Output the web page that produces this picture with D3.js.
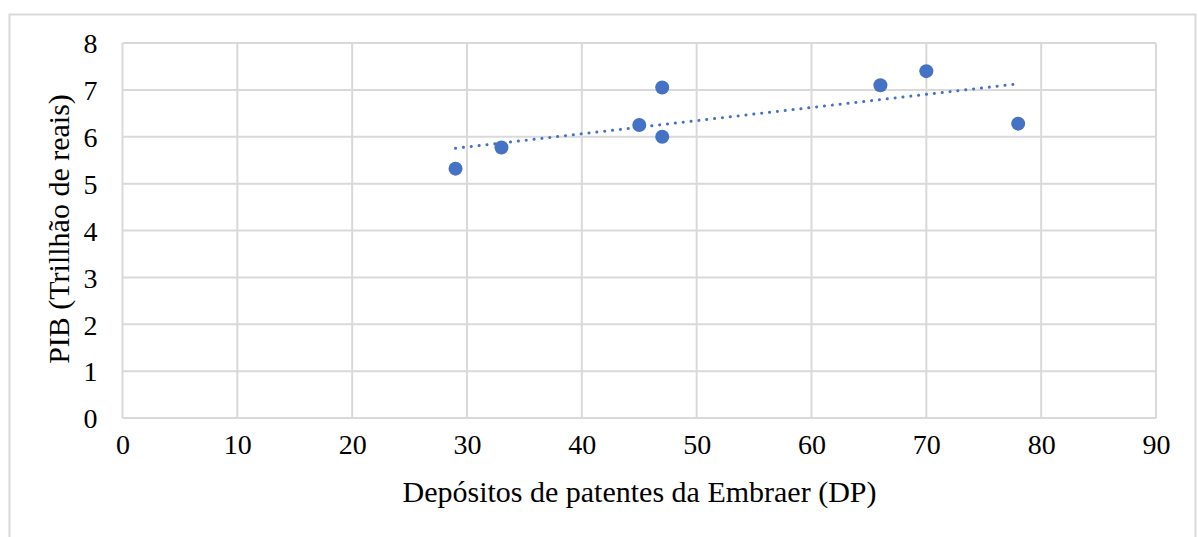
<!DOCTYPE html>
<html><head><meta charset="utf-8">
<script src="https://cdn.jsdelivr.net/npm/d3@7"></script>
<style>body{margin:0;background:#fff}svg{display:block}</style>
</head><body>
<script>
const xValues = [29, 33, 45, 47, 47, 66, 70, 78];
const yValues = [5.32, 5.77, 6.25, 7.05, 6.0, 7.1, 7.4, 6.28];
const xTicks = [0, 10, 20, 30, 40, 50, 60, 70, 80, 90];
const yTicks = [0, 1, 2, 3, 4, 5, 6, 7, 8];
const xTitle = "Depósitos de patentes da Embraer (DP)";
const yTitle = "PIB (Trillhão de reais)";

const W = 1199, H = 537;
const svg = d3.select("body").append("svg").attr("width", W).attr("height", H);
const font = "'Liberation Serif', 'Times New Roman', serif";

svg.append("rect").attr("x", 9.5).attr("y", 14.5).attr("width", 1186).attr("height", 540)
  .attr("fill", "none").attr("stroke", "#d9d9d9").attr("stroke-width", 2);

const x = d3.scaleLinear().domain([0, 90]).range([122.5, 1156]);
const y = d3.scaleLinear().domain([0, 8]).range([418, 43]);

const g = svg.append("g");
g.selectAll(".vg").data(xTicks).enter().append("line")
  .attr("x1", d => x(d)).attr("x2", d => x(d)).attr("y1", y(0)).attr("y2", y(8))
  .attr("stroke", "#d9d9d9").attr("stroke-width", 2);
g.selectAll(".hg").data(yTicks).enter().append("line")
  .attr("y1", d => y(d)).attr("y2", d => y(d)).attr("x1", x(0)).attr("x2", x(90))
  .attr("stroke", "#d9d9d9").attr("stroke-width", 2);

const xAxis = d3.axisBottom(x).tickValues(xTicks).tickSize(0).tickPadding(0);
const xa = svg.append("g").attr("transform", `translate(0,${y(0)+26})`).call(xAxis);
xa.select(".domain").remove();
xa.selectAll("text").attr("font-family", font).attr("font-size", 28).attr("fill", "#000").attr("dy", "0.35em");

const yAxis = d3.axisLeft(y).tickValues(yTicks).tickSize(0).tickPadding(0);
const ya = svg.append("g").attr("transform", `translate(${x(0)-25},0)`).call(yAxis);
ya.select(".domain").remove();
ya.selectAll("text").attr("font-family", font).attr("font-size", 28).attr("fill", "#000").attr("dy", "0.35em");

// trendline (least squares)
const n = xValues.length;
const mx = d3.mean(xValues), my = d3.mean(yValues);
let sxy = 0, sxx = 0;
for (let i = 0; i < n; i++) { sxy += (xValues[i]-mx)*(yValues[i]-my); sxx += (xValues[i]-mx)**2; }
const slope = sxy/sxx, icpt = my - slope*mx;
const x0 = d3.min(xValues), x1 = d3.max(xValues);
svg.append("line")
  .attr("x1", x(x0)).attr("y1", y(icpt+slope*x0))
  .attr("x2", x(x1)).attr("y2", y(icpt+slope*x1))
  .attr("stroke", "#4472C4").attr("stroke-width", 3)
  .attr("stroke-linecap", "round").attr("stroke-dasharray", "0.1,7.8");

svg.selectAll(".pt").data(xValues).enter().append("circle")
  .attr("cx", d => x(d)).attr("cy", (d, i) => y(yValues[i])).attr("r", 7)
  .attr("fill", "#4472C4");

svg.append("text").attr("x", 639.5).attr("y", 502).attr("text-anchor", "middle")
  .attr("font-family", font).attr("font-size", 30).text(xTitle);
svg.append("text").attr("transform", `translate(69,229) rotate(-90)`)
  .attr("text-anchor", "middle").attr("font-family", font).attr("font-size", 30).text(yTitle);
</script>
</body></html>
